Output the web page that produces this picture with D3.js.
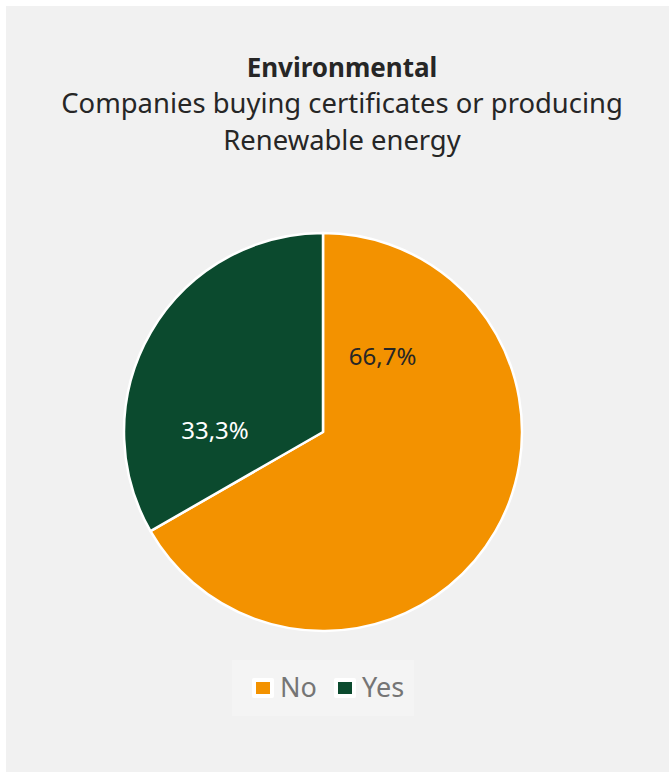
<!DOCTYPE html>
<html>
<head>
<meta charset="utf-8">
<script src="https://cdn.jsdelivr.net/npm/d3@7"></script>
<style>
  body { margin: 0; background: #fff; }
  svg { display: block; }
</style>
</head>
<body>
<svg id="chart"></svg>
<script>
// data
const categories = ["No", "Yes"];
const values = [66.7, 33.3];
const colors = ["#F39200", "#0B4A2E"];
const labelColors = ["#262626", "#FFFFFF"];
const title = "Environmental";
const subtitle = ["Companies buying certificates or producing", "Renewable energy"];

const width = 669, height = 772;
const svg = d3.select("#chart").attr("width", width).attr("height", height);
const font = "Noto Sans, Open Sans, sans-serif";

// chart area background
svg.append("rect")
  .attr("x", 6).attr("y", 6)
  .attr("width", 680).attr("height", 780)
  .attr("fill", "#f1f1f1");

// titles
const cx = 342;
svg.append("text")
  .attr("x", cx).attr("y", 77)
  .attr("text-anchor", "middle")
  .attr("font-family", font).attr("font-weight", "bold")
  .attr("font-size", 26).attr("fill", "#262626")
  .text(title);

svg.selectAll(".sub")
  .data(subtitle)
  .enter().append("text")
  .attr("class", "sub")
  .attr("x", cx)
  .attr("y", (d, i) => 113 + i * 37)
  .attr("text-anchor", "middle")
  .attr("font-family", font)
  .attr("font-size", 27.4).attr("fill", "#262626")
  .text(d => d);

// pie
const radius = 199;
const g = svg.append("g").attr("transform", "translate(323,432)");

const pie = d3.pie().sort(null).value(d => d);
const arc = d3.arc().innerRadius(0).outerRadius(radius);
const arcs = pie(values);

g.selectAll(".slice")
  .data(arcs)
  .enter().append("path")
  .attr("class", "slice")
  .attr("d", arc)
  .attr("fill", (d, i) => colors[i])
  .attr("stroke", "#fff")
  .attr("stroke-width", 2.5)
  .attr("stroke-linejoin", "round");

// data labels (Excel best fit, shifted inside each slice)
const labelAngle = [0.67, -1.56];
const labelRadius = [96, 108];
g.selectAll(".lbl")
  .data(arcs)
  .enter().append("text")
  .attr("class", "lbl")
  .attr("x", (d, i) => Math.sin(labelAngle[i]) * labelRadius[i])
  .attr("y", (d, i) => -Math.cos(labelAngle[i]) * labelRadius[i])
  .attr("dy", "0.35em")
  .attr("text-anchor", "middle")
  .attr("font-family", font)
  .attr("font-size", 24)
  .attr("fill", (d, i) => labelColors[i])
  .text(d => d.data.toFixed(1).replace(".", ",") + "%");

// legend
const legend = svg.append("g");
legend.append("rect")
  .attr("x", 232).attr("y", 660)
  .attr("width", 182).attr("height", 56)
  .attr("fill", "#f4f4f4");

const legendX = [256, 338];
const items = legend.selectAll(".item")
  .data(categories)
  .enter().append("g")
  .attr("class", "item")
  .attr("transform", (d, i) => `translate(${legendX[i]},688)`);

items.append("rect")
  .attr("x", -4).attr("y", -10)
  .attr("width", 22).attr("height", 20)
  .attr("rx", 2)
  .attr("fill", "#fff");
items.append("rect")
  .attr("x", 0).attr("y", -6)
  .attr("width", 14).attr("height", 12)
  .attr("fill", (d, i) => colors[i]);
items.append("text")
  .attr("x", 24).attr("y", 0)
  .attr("dy", "0.35em")
  .attr("font-family", font)
  .attr("font-size", 27)
  .attr("fill", "#757575")
  .text(d => d);
</script>
</body>
</html>
